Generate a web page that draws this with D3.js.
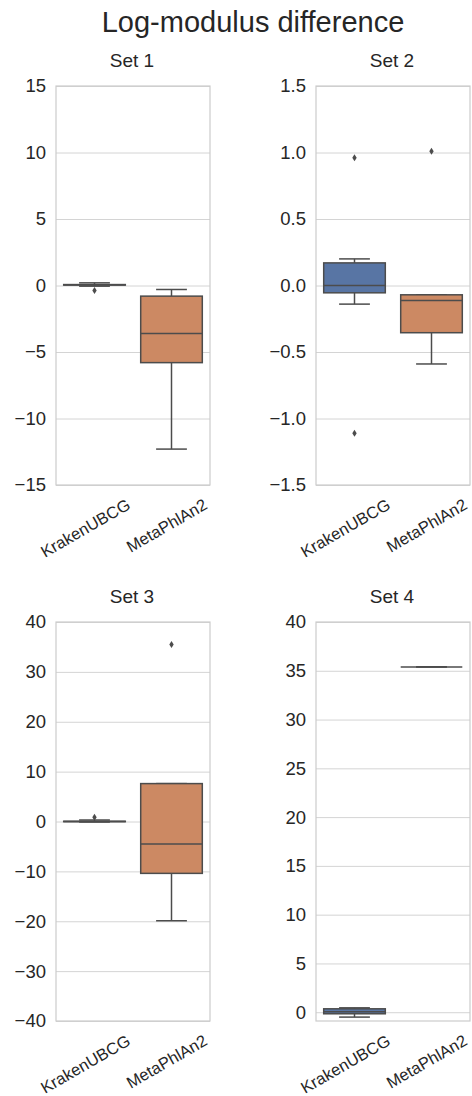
<!DOCTYPE html>
<html>
<head>
<meta charset="utf-8">
<script src="https://cdn.jsdelivr.net/npm/d3@7"></script>
<style>
  body { margin: 0; background: #fff; }
  text { font-family: "Liberation Sans", Arial, sans-serif; fill: #262626; }
</style>
</head>
<body>
<script>
// box stats: [whislo, q1, median, q3, whishi]
var setNames = ["Set 1", "Set 2", "Set 3", "Set 4"];
var tools = ["KrakenUBCG", "MetaPhlAn2"];

var krakenStats = [
	[-0.05, 0.03, 0.05, 0.07, 0.2],
	[-0.14, -0.055, 0.0, 0.17, 0.2],
	[-0.1, -0.03, 0.0, 0.05, 0.3],
	[-0.5, -0.16, 0.05, 0.35, 0.45]
];
var metaStats = [
	[-12.3, -5.8, -3.6, -0.8, -0.3],
	[-0.59, -0.355, -0.113, -0.07, -0.07],
	[-19.9, -10.4, -4.5, 7.6, 7.6],
	[35.4, 35.4, 35.4, 35.4, 35.4]
];
var krakenFliers = [[-0.37], [0.96, -1.11], [0.86], []];
var metaFliers = [[], [1.01], [35.5], []];

var yDomains = [[-15, 15], [-1.5, 1.5], [-40, 40], [-0.9, 40]];
var yTicks = [
	[-15, -10, -5, 0, 5, 10, 15],
	[-1.5, -1.0, -0.5, 0.0, 0.5, 1.0, 1.5],
	[-40, -30, -20, -10, 0, 10, 20, 30, 40],
	[0, 5, 10, 15, 20, 25, 30, 35, 40]
];
var tickFormats = [d3.format("d"), d3.format(".1f"), d3.format("d"), d3.format("d")];

var colors = ["#5875a4", "#cc8963"];
var gray = "#4c4c4c";

var W = 472, H = 1096;
var panelW = 154, panelH = 399;
var panelX = [56, 316, 56, 316],
	panelY = [86, 86, 622, 622];

var svg = d3.select("body").append("svg")
	.attr("width", W)
	.attr("height", H);

svg.append("text")
	.attr("x", 253)
	.attr("y", 32)
	.attr("text-anchor", "middle")
	.style("font-size", "29px")
	.text("Log-modulus difference");

setNames.forEach(function(name, i) {
	var g = svg.append("g")
		.attr("transform", "translate(" + panelX[i] + "," + panelY[i] + ")");

	var x = d3.scaleBand()
		.domain(tools)
		.range([0, panelW]);

	var y = d3.scaleLinear()
		.domain(yDomains[i])
		.range([panelH, 0]);

	// grid + tick labels
	var yAxis = d3.axisLeft(y)
		.tickValues(yTicks[i])
		.tickFormat(function(d) { return tickFormats[i](d).replace("-", "\u2212"); })
		.tickSize(-panelW)
		.tickPadding(10);

	var ax = g.append("g").call(yAxis);
	ax.select(".domain").remove();
	ax.selectAll(".tick line").attr("stroke", "#d4d4d4").attr("stroke-width", 1);
	ax.selectAll(".tick text")
		.attr("fill", "#262626")
		.style("font-size", "18.5px")
		.style("font-family", "Liberation Sans, Arial, sans-serif");

	// frame
	g.append("rect")
		.attr("width", panelW)
		.attr("height", panelH)
		.attr("fill", "none")
		.attr("stroke", "#cccccc")
		.attr("stroke-width", 1.2);

	g.append("text")
		.attr("x", panelW / 2 - 1)
		.attr("y", -19)
		.attr("text-anchor", "middle")
		.style("font-size", "19px")
		.text(name);

	// x labels, rotated
	g.selectAll("text.xlab")
		.data(tools)
		.enter().append("text")
			.attr("class", "xlab")
			.attr("text-anchor", "end")
			.attr("transform", function(d) {
				return "translate(" + (x(d) + x.bandwidth() / 2 + 37) + "," + (panelH + 23) + ")rotate(-30)";
			})
			.style("font-size", "16.5px")
			.text(function(d) { return d; });

	var stats = [krakenStats[i], metaStats[i]];
	var fliers = [krakenFliers[i], metaFliers[i]];
	var bw = x.bandwidth() * 0.8;

	var boxes = g.selectAll("g.box")
		.data(tools)
		.enter().append("g")
			.attr("class", "box")
			.attr("transform", function(d) { return "translate(" + (x(d) + x.bandwidth() / 2) + ",0)"; });

	boxes.each(function(d, j) {
		var b = d3.select(this);
		var s = stats[j];

		// whiskers
		b.append("line")
			.attr("x1", 0).attr("x2", 0)
			.attr("y1", y(s[3])).attr("y2", y(s[4]))
			.attr("stroke", gray).attr("stroke-width", 1.5);
		b.append("line")
			.attr("x1", 0).attr("x2", 0)
			.attr("y1", y(s[1])).attr("y2", y(s[0]))
			.attr("stroke", gray).attr("stroke-width", 1.5);
		// caps
		[s[0], s[4]].forEach(function(v) {
			b.append("line")
				.attr("x1", -bw / 4).attr("x2", bw / 4)
				.attr("y1", y(v)).attr("y2", y(v))
				.attr("stroke", gray).attr("stroke-width", 1.5);
		});

		b.append("rect")
			.attr("x", -bw / 2)
			.attr("y", y(s[3]))
			.attr("width", bw)
			.attr("height", Math.max(0, y(s[1]) - y(s[3])))
			.attr("fill", colors[j])
			.attr("stroke", gray)
			.attr("stroke-width", 1.5);

		b.append("line")
			.attr("x1", -bw / 2).attr("x2", bw / 2)
			.attr("y1", y(s[2])).attr("y2", y(s[2]))
			.attr("stroke", gray).attr("stroke-width", 1.5);

		b.selectAll("path.flier")
			.data(fliers[j])
			.enter().append("path")
				.attr("class", "flier")
				.attr("d", "M0,-3.5L2.2,0L0,3.5L-2.2,0Z")
				.attr("transform", function(v) { return "translate(0," + y(v) + ")"; })
				.attr("fill", gray);
	});
});
</script>
</body>
</html>
